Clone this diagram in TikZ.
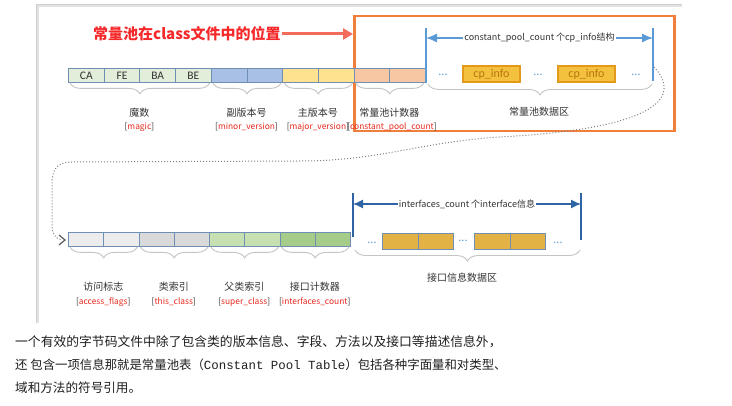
\documentclass[tikz,border=0pt]{standalone}
\usepackage{fontspec}
\setmainfont{Carlito}
\newfontfamily\cjk{Noto Sans CJK SC}
\newfontfamily\monof{Liberation Mono}
\usetikzlibrary{arrows.meta,decorations.pathreplacing}
\definecolor{cellborder}{HTML}{6F8FB5}
\definecolor{magicfill}{HTML}{E2EEDA}
\definecolor{minorfill}{HTML}{A8BFE6}
\definecolor{majorfill}{HTML}{FFE28F}
\definecolor{cpcfill}{HTML}{F7C6A3}
\definecolor{accfill}{HTML}{ECECEC}
\definecolor{thisfill}{HTML}{D9D9D9}
\definecolor{superfill}{HTML}{C7E0B2}
\definecolor{intcfill}{HTML}{A6CC8A}
\definecolor{cpinfofill}{HTML}{F4C13E}
\definecolor{cpinfoborder}{HTML}{E39A1C}
\definecolor{cpinfotext}{HTML}{B8760C}
\definecolor{ifacefill}{HTML}{E2B245}
\definecolor{poolorange}{HTML}{F07F3C}
\definecolor{titlered}{HTML}{F5282A}
\definecolor{arrowred}{HTML}{F26B5B}
\definecolor{dimblue}{HTML}{5B9BD5}
\definecolor{dimdark}{HTML}{2E64A4}
\definecolor{labred}{HTML}{E8281E}
\definecolor{bracegray}{HTML}{C4C4C4}
\definecolor{txtgray}{HTML}{333333}
\definecolor{panelgray}{HTML}{CFCFCF}
\begin{document}
\begin{tikzpicture}[x=1pt,y=-1pt,
  cell/.style={draw=cellborder, line width=0.9pt, minimum width=35.7pt, minimum height=14pt,
    inner sep=0pt, anchor=north west, font=\fontsize{11.5}{12}\selectfont, text=txtgray},
  brc/.style={draw=bracegray, line width=0.9pt, decorate,
    decoration={brace, mirror, amplitude=11pt, aspect=0.5}},
  lblzh/.style={font=\cjk\fontsize{10}{11}\selectfont, text=txtgray, inner sep=0pt},
  lblen/.style={font=\cjk\fontsize{8.4}{10}\selectfont, text=txtgray, inner sep=0pt},
  dimone/.style={draw=dimblue, line width=1.3pt},
  dimtwo/.style={draw=dimdark, line width=1.3pt},
  dimtext/.style={font=\cjk\fontsize{9}{10}\selectfont, text=txtgray, fill=white, inner sep=1pt},
  dots/.style={font=\fontsize{12}{12}\selectfont, text=dimblue, inner sep=0pt},
  cpinfo/.style={draw=cpinfoborder, fill=cpinfofill, line width=1.2pt, minimum width=57pt,
    minimum height=16pt, inner sep=0pt, text=cpinfotext, font=\fontsize{12}{12}\selectfont},
  iface/.style={draw=cellborder, fill=ifacefill, line width=0.9pt, minimum width=35.5pt,
    minimum height=16pt, inner sep=0pt, anchor=north west},
  bodytext/.style={anchor=west, inner sep=0pt, text=black!88}]
\useasboundingbox[fill=white] (0,0) rectangle (732,406);

% panel edge
\draw[panelgray!60, line width=3pt] (37,323) -- (37,6) -- (682,6);
\draw[panelgray, line width=1pt] (36,323) -- (36,5) -- (682,5);

% orange frame
\node[draw=poolorange, line width=2.5pt, minimum width=320pt, minimum height=115pt,
  anchor=north west, inner sep=0pt] (pool) at (353,15) {};

% title and red arrow
\node[anchor=west, inner sep=0pt, text=titlered, font=\cjk\bfseries\fontsize{15}{15}\selectfont]
  (title) at (93,34) {常量池在class文件中的位置};
\draw[arrowred, line width=3pt, -{Triangle[length=10pt,width=11pt]}]
  ([xshift=1pt]title.east) -- (pool.west |- title.east);

% row 1 cells
\foreach \i/\f/\t in {1/magicfill/CA, 2/magicfill/FE, 3/magicfill/BA, 4/magicfill/BE,
  5/minorfill/{}, 6/minorfill/{}, 7/majorfill/{}, 8/majorfill/{}, 9/cpcfill/{}, 10/cpcfill/{}}
  \node[cell, fill=\f] (a\i) at ({68+(\i-1)*35.7},68) {\t};

% row 1 braces and labels
\draw[brc] ([xshift=2pt]a1.south west) -- ([xshift=-2pt]a4.south east);
\draw[brc] ([xshift=2pt]a5.south west) -- ([xshift=-2pt]a6.south east);
\draw[brc] ([xshift=2pt]a7.south west) -- ([xshift=-2pt]a8.south east);
\draw[brc] ([xshift=2pt]a9.south west) -- ([xshift=-2pt]a10.south east);
\node[lblzh] (l1) at (139.4,113) {魔数};
\node[lblen] (e1) at (139.4,127) {[\textcolor{labred}{magic}]};
\node[lblzh] (l2) at (246.5,113) {副版本号};
\node[lblen] (e2) at (246.5,127) {[\textcolor{labred}{minor\_version}]};
\node[lblzh] (l3) at (317.9,113) {主版本号};
\node[lblen] (e3) at (317.9,127) {[\textcolor{labred}{major\_version}]};
\node[lblzh] (l4) at (389.3,113) {常量池计数器};
\node[lblen] (e4) at (392,127) {[\textcolor{labred}{constant\_pool\_count}]};

% constant pool data area
\coordinate (L1t) at (426,28); \coordinate (L1b) at (426,83);
\coordinate (R1t) at (653,28); \coordinate (R1b) at (653,81);
\coordinate (L1m) at (426,38); \coordinate (R1m) at (653,38);
\draw[dimone] (L1t) -- (L1b);
\draw[dimone] (R1t) -- (R1b);
\draw[dimone, {Latex[length=11pt,width=9pt]}-{Latex[length=11pt,width=9pt]}] (L1m) -- (R1m)
  node[midway, dimtext] (h1) {constant\_pool\_count {个}cp\_info结构};
\node[cpinfo] (cp1) at (491.5,74) {cp\_info};
\node[cpinfo] (cp2) at (586.5,74) {cp\_info};
\node[dots] (d1) at (443,75) {...};
\node[dots] (d2) at (538,75) {...};
\node[dots] (d3) at (636,75) {...};
\coordinate (B1a) at (428,84); \coordinate (B1b) at (652,84);
\draw[brc] (B1a) -- (B1b);
\node[lblzh] (l5) at (539,112) {常量池数据区};

% dotted connector
\coordinate (c0) at (654,67);
\coordinate (c1) at (62,240);
\draw[gray, line width=1pt, dotted] (c0) .. controls (680,95) and (665,128) .. (500,137)
  .. controls (420,142) and (380,161) .. (300,161) -- (72,162)
  .. controls (56,162) and (52,170) .. (52,185) -- (52,226)
  .. controls (52,234) and (55,238) .. (c1);
\draw[gray!70!black, line width=1.2pt] (59,235) -- (65,240) -- (59,245);

% row 2 cells
\foreach \i/\f in {1/accfill,2/accfill,3/thisfill,4/thisfill,5/superfill,6/superfill,7/intcfill,8/intcfill}
  \node[cell, minimum width=35.25pt, fill=\f] (b\i) at ({68+(\i-1)*35.25},232) {};
\draw[brc] ([xshift=2pt]b1.south west) -- ([xshift=-2pt]b2.south east);
\draw[brc] ([xshift=2pt]b3.south west) -- ([xshift=-2pt]b4.south east);
\draw[brc] ([xshift=2pt]b5.south west) -- ([xshift=-2pt]b6.south east);
\draw[brc] ([xshift=2pt]b7.south west) -- ([xshift=-2pt]b8.south east);
\node[lblzh] (l6) at (103.25,287) {访问标志};
\node[lblen] (e6) at (103.25,302) {[\textcolor{labred}{access\_flags}]};
\node[lblzh] (l7) at (173.75,287) {类索引};
\node[lblen] (e7) at (173.75,302) {[\textcolor{labred}{this\_class}]};
\node[lblzh] (l8) at (244.25,287) {父类索引};
\node[lblen] (e8) at (244.25,302) {[\textcolor{labred}{super\_class}]};
\node[lblzh] (l9) at (314.75,287) {接口计数器};
\node[lblen] (e9) at (314.75,302) {[\textcolor{labred}{interfaces\_count}]};

% interfaces data area
\coordinate (L2t) at (353,193); \coordinate (L2b) at (353,237);
\coordinate (R2t) at (581,193); \coordinate (R2b) at (581,240);
\coordinate (L2m) at (353,204); \coordinate (R2m) at (581,204);
\draw[dimtwo] (L2t) -- (L2b);
\draw[dimtwo] (R2t) -- (R2b);
\draw[dimtwo, {Latex[length=10pt,width=9pt]}-{Latex[length=10pt,width=9pt]}] (L2m) -- (R2m)
  node[midway, dimtext] (h2) {interfaces\_count {个}interface信息};
\node[iface] (i1) at (382,233) {};
\node[iface] (i2) at (417.5,233) {};
\node[iface] (i3) at (474,233) {};
\node[iface] (i4) at (509.5,233) {};
\node[dots] (d4) at (372,243) {...};
\node[dots] (d5) at (463,241) {...};
\node[dots] (d6) at (558,243) {...};
\coordinate (B2a) at (355,250); \coordinate (B2b) at (580,250);
\draw[brc] (B2a) -- (B2b);
\node[lblzh] (l10) at (462,278) {接口信息数据区};

% body text
\node[bodytext, font=\cjk\fontsize{12.8}{13}\selectfont] (t1) at (15,342)
  {一个有效的字节码文件中除了包含类的版本信息、字段、方法以及接口等描述信息外，};
\node[bodytext, font=\cjk\fontsize{12.4}{13}\selectfont] (t2) at (15,365)
  {还 包含一项信息那就是常量池表（{\monof\fontsize{12.4}{13}\selectfont Constant Pool Table}）包括各种字面量和对类型、};
\node[bodytext, font=\cjk\fontsize{12.6}{13}\selectfont] (t3) at (15,388)
  {域和方法的符号引用。};
\end{tikzpicture}
\end{document}
